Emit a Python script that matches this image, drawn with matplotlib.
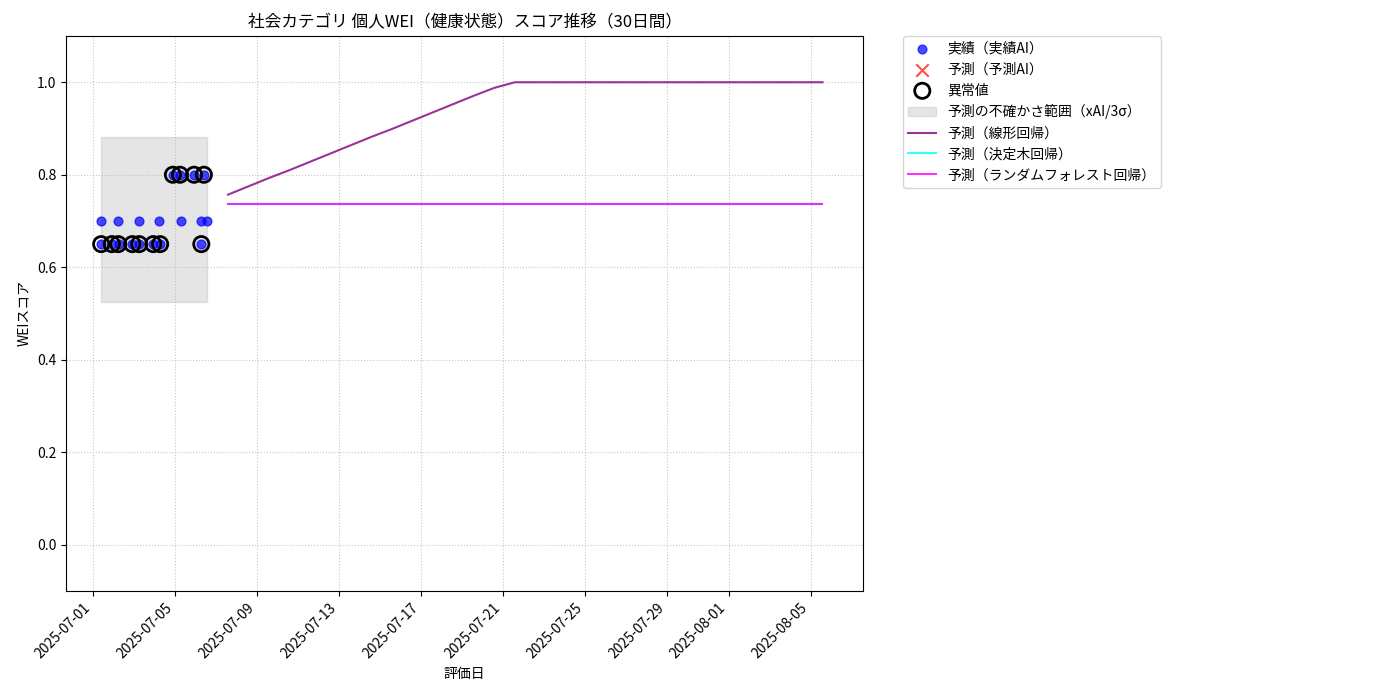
import matplotlib
matplotlib.use("Agg")
import matplotlib.pyplot as plt
import matplotlib.dates as mdates
import pandas as pd

plt.rcParams['font.family'] = ['Noto Sans CJK JP', 'DejaVu Sans']

actual_dates = ["2025-07-01 09:00","2025-07-01 09:30","2025-07-01 22:00","2025-07-02 05:30","2025-07-02 06:30",
                "2025-07-02 22:00","2025-07-03 05:30","2025-07-03 06:00","2025-07-03 22:30","2025-07-04 05:30",
                "2025-07-04 06:30","2025-07-04 21:30","2025-07-05 05:45","2025-07-05 07:00","2025-07-05 22:15",
                "2025-07-06 06:00","2025-07-06 06:45","2025-07-06 09:45","2025-07-06 13:30"]
actual_vals = [0.70,0.65,0.65,0.70,0.65,0.65,0.70,0.65,0.65,0.70,0.65,0.80,0.80,0.70,0.80,0.70,0.65,0.80,0.70]
anom_dates = ["2025-07-01 09:30","2025-07-01 22:00","2025-07-02 05:30","2025-07-02 22:00","2025-07-03 06:00",
              "2025-07-03 22:30","2025-07-04 06:30","2025-07-04 21:30","2025-07-05 05:45","2025-07-05 22:15",
              "2025-07-06 06:45","2025-07-06 09:45"]
anom_vals = [0.65,0.65,0.65,0.65,0.65,0.65,0.65,0.80,0.80,0.80,0.65,0.80]
band_start, band_end = "2025-07-01 09:00", "2025-07-06 13:30"
band_low, band_high = 0.525, 0.882

fc_start = "2025-07-07 14:00"
linear_vals = [0.757,0.775,0.793,0.810,0.828,0.846,0.864,0.882,0.899,0.917,0.935,0.953,0.971,0.988,1.0,
               1.0,1.0,1.0,1.0,1.0,1.0,1.0,1.0,1.0,1.0,1.0,1.0,1.0,1.0,1.0]
tree_vals = [0.737]*30
rf_vals = [0.737]*30

ad = pd.to_datetime(actual_dates)
an = pd.to_datetime(anom_dates)
fd = pd.date_range(fc_start, periods=len(linear_vals), freq="D")

fig = plt.figure(figsize=(14, 7), dpi=100)
ax = fig.add_axes([66/1400, 1-591/700, (863-66)/1400, (591-36)/700])
ax.scatter(ad, actual_vals, color='blue', alpha=0.7, s=40, label='実績（実績AI）', zorder=3)
ax.scatter([], [], color='red', marker='x', s=80, alpha=0.7, label='予測（予測AI）')
ax.scatter(an, anom_vals, facecolors='none', edgecolors='black', s=120, linewidths=2, label='異常値', zorder=4)
ax.fill_between([pd.Timestamp(band_start), pd.Timestamp(band_end)], band_low, band_high,
                color='gray', alpha=0.2, label='予測の不確かさ範囲（xAI/3σ）')
ax.plot(fd, linear_vals, color='purple', alpha=0.8, label='予測（線形回帰）')
ax.plot(fd, tree_vals, color='cyan', alpha=0.8, label='予測（決定木回帰）')
ax.plot(fd, rf_vals, color='magenta', alpha=0.8, label='予測（ランダムフォレスト回帰）')

ax.set_ylim(-0.1, 1.1)
ax.set_xlim(pd.Timestamp("2025-07-01") - pd.Timedelta(days=1.32), pd.Timestamp("2025-07-01") + pd.Timedelta(days=37.56))
ax.xaxis.set_major_locator(mdates.DayLocator(bymonthday=[1,5,9,13,17,21,25,29]))
ax.xaxis.set_major_formatter(mdates.DateFormatter('%Y-%m-%d'))
plt.setp(ax.get_xticklabels(), rotation=45, ha='right')
ax.grid(True, linestyle=':', alpha=0.7)
ax.set_title('社会カテゴリ 個人WEI（健康状態）スコア推移（30日間）')
ax.set_xlabel('評価日')
ax.set_ylabel('WEIスコア')
ax.legend(loc='upper left', bbox_to_anchor=(1.05, 1.0), borderaxespad=0)
fig.savefig('out.png')
